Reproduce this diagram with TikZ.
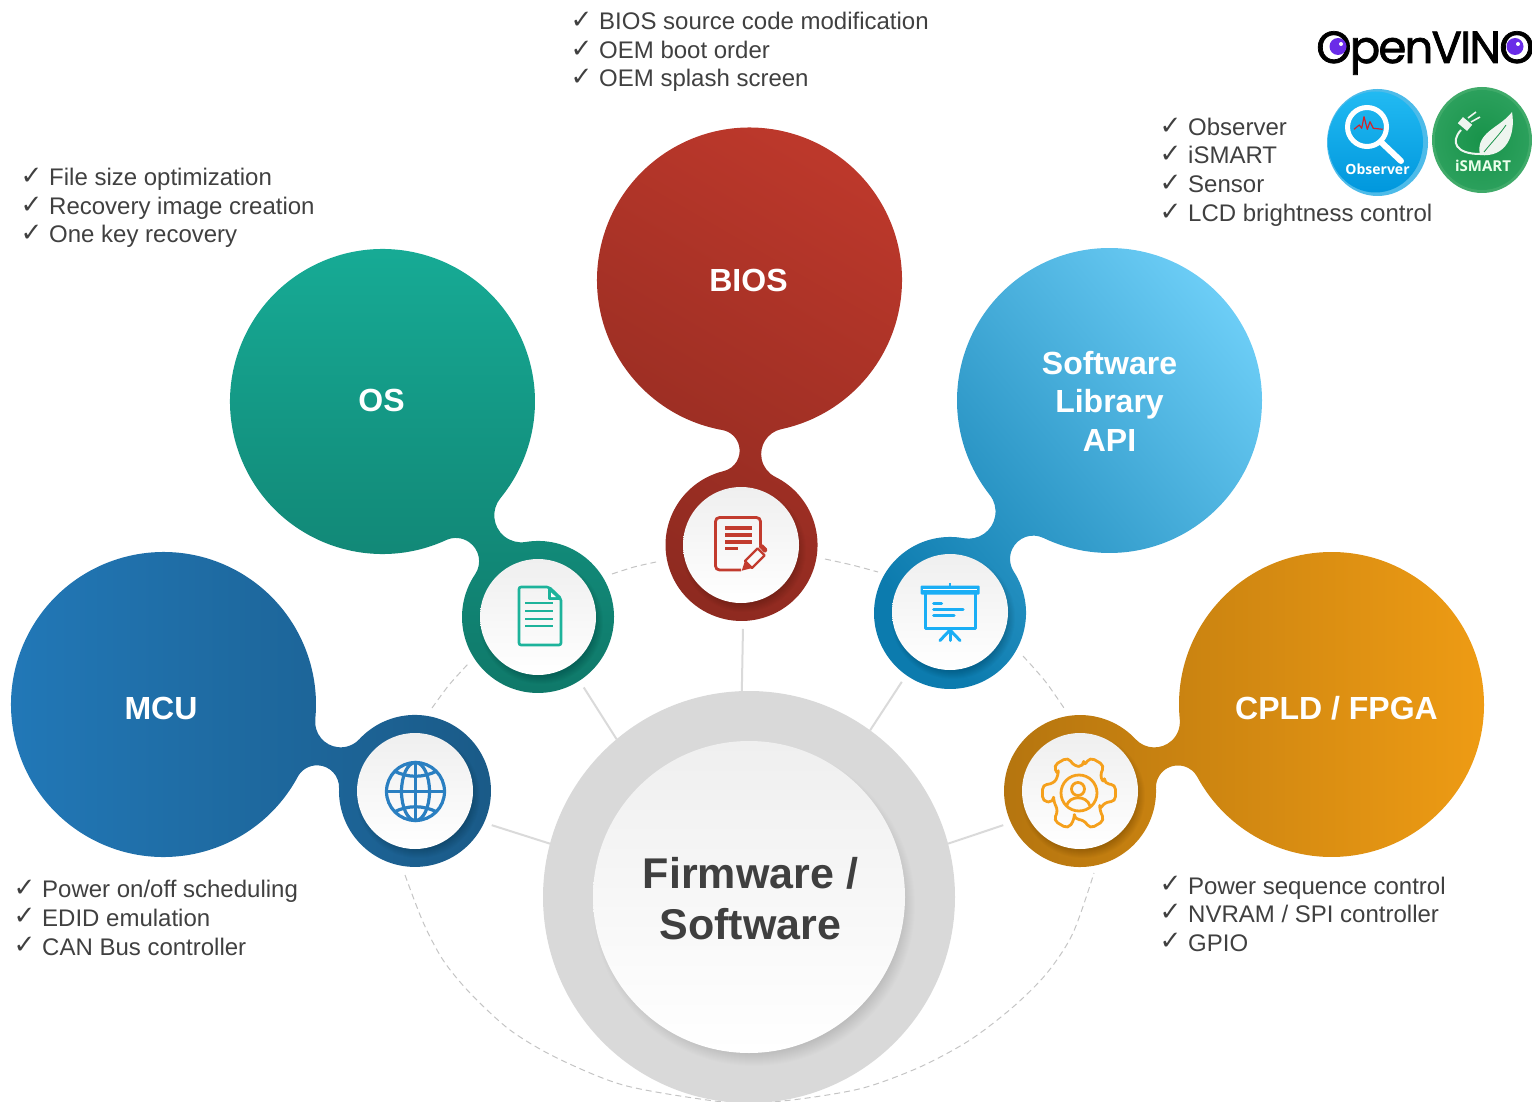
\documentclass[tikz,border=0pt]{standalone}
\usepackage{fontspec}
\setmainfont{Liberation Sans}
\newfontfamily\chkfont{DejaVu Sans}
\newfontfamily\logofont[FakeBold=1.6,LetterSpace=-4]{Poppins}
\newfontfamily\badgefont{Open Sans}
\definecolor{txt}{HTML}{404040}
\definecolor{hubtxt}{HTML}{3F3F3F}
\definecolor{hubring}{HTML}{D9D9D9}
\definecolor{lnk}{HTML}{DADADA}
\definecolor{orb}{HTML}{C4C4C4}
\definecolor{iconred}{HTML}{C23B2E}
\definecolor{icongreen}{HTML}{1DB39B}
\definecolor{iconblue}{HTML}{1AAEF5}
\definecolor{iconglobe}{HTML}{2A7FC1}
\definecolor{iconorange}{HTML}{F5A01C}
\definecolor{biosA}{HTML}{BC382B}\definecolor{biosB}{HTML}{8E2A20}
\definecolor{osA}{HTML}{17AD97}\definecolor{osB}{HTML}{0F7869}
\definecolor{swA}{HTML}{6CCDF6}\definecolor{swB}{HTML}{0C7BAE}
\definecolor{mcuA}{HTML}{2279B9}\definecolor{mcuB}{HTML}{1A5A87}
\definecolor{cpA}{HTML}{EF9C14}\definecolor{cpB}{HTML}{B5750F}
\definecolor{eye}{HTML}{6A2CE8}
\definecolor{obsring}{HTML}{4DBBE9}\definecolor{obsA}{HTML}{22BAF2}\definecolor{obsB}{HTML}{0097DD}
\definecolor{obsred}{HTML}{D2232A}
\definecolor{ismring}{HTML}{3FAA69}\definecolor{ismA}{HTML}{18934A}\definecolor{ismB}{HTML}{2BA05C}
\definecolor{leaf}{HTML}{EEF5EF}
\definecolor{faceA}{HTML}{EFEFEF}\definecolor{faceM}{HTML}{FAFAFA}
\newcommand{\blob}[9]{%
  \pgfmathsetmacro\dX{#4-#1}\pgfmathsetmacro\dY{#5-#2}
  \pgfmathsetmacro\aX{atan2(\dY,\dX)}
  \pgfmathsetmacro\dD{veclen(\dX,\dY)/100}
  \pgfmathsetmacro\pA{(#3+#7)/100}\pgfmathsetmacro\pC{(#6+#7)/100}
  \pgfmathsetmacro\pY{(\dD*\dD+\pA*\pA-\pC*\pC)/(2*\dD)}
  \pgfmathsetmacro\bOne{acos(\pY/\pA)}\pgfmathsetmacro\cOne{acos((\dD-\pY)/\pC)}
  \pgfmathsetmacro\pA{(#3+#8)/100}\pgfmathsetmacro\pC{(#6+#8)/100}
  \pgfmathsetmacro\pY{(\dD*\dD+\pA*\pA-\pC*\pC)/(2*\dD)}
  \pgfmathsetmacro\bTwo{acos(\pY/\pA)}\pgfmathsetmacro\cTwo{acos((\dD-\pY)/\pC)}
  \shade[#9] ($(#1,#2)+(\aX+\bOne:#3)$)
    arc[start angle=\aX+\bOne,end angle=\aX+360-\bTwo,radius=#3]
    arc[start angle=\aX-\bTwo+180,end angle=\aX+\cTwo,radius=#8]
    arc[start angle=\aX-180+\cTwo,end angle=\aX+180-\cOne,radius=#6]
    arc[start angle=\aX-\cOne,end angle=\aX+\bOne-180,radius=#7]
    -- cycle;
}
% x y rmin rmax alpha ox oy
\newcommand{\softshadow}[7]{%
  \foreach \k in {#3,...,#4}{
    \fill[black,opacity=#5] (#1+#6,#2+#7) circle[radius=\k];
  }
}
\newcommand{\chk}[4]{%
  \node[chkmark] (#1c) at (#2-28.5,#3-1.5) {✓};
  \node[listitem] (#1t) at (#2,#3) {#4};
}
\tikzset{
  chkmark/.style={anchor=base west,inner sep=0,font=\chkfont\fontsize{26}{26}\selectfont,text=txt},
  listitem/.style={anchor=base west,inner sep=0,font=\fontsize{24}{24}\selectfont,text=txt},
  bigtitle/.style={font=\bfseries\fontsize{32}{38.5}\selectfont,text=white,align=center,inner sep=0},
  ringnode/.style={circle,minimum size=152pt,inner sep=0,outer sep=8pt},
  facenode/.style={circle,minimum size=116pt,inner sep=0,top color=faceA,middle color=faceM,bottom color=white},
  link/.style={lnk,line width=2pt},
  orbit/.style={orb,line width=1pt,dash pattern=on 6pt off 4pt},
}
\usetikzlibrary{calc}
\begin{document}
\begin{tikzpicture}[x=1pt,y=-1pt]
\useasboundingbox (0,0) rectangle (1532,1102);
\clip (0,0) rectangle (1532,1102);
% anchors for connectors
\node[circle,minimum size=412pt,inner sep=0,outer sep=0] (hub) at (749,897) {};
\node[ringnode] (ringbios) at (741.5,545) {};
\node[ringnode] (ringos) at (538,617) {};
\node[ringnode] (ringsw) at (950,613) {};
\node[ringnode] (ringmcu) at (415,791) {};
\node[ringnode] (ringcp) at (1080,791) {};
% orbit
\draw[orbit] plot[smooth] coordinates {(432,708) (449,685) (468,664)};
\draw[orbit] plot[smooth] coordinates {(612,574) (634,567) (656,562)};
\draw[orbit] plot[smooth] coordinates {(825,559) (852,565) (878,572)};
\draw[orbit] plot[smooth] coordinates {(1023,656) (1045,681) (1064,708)};
\draw[orbit] plot[smooth] coordinates {(405,875) (423,922) (443,960) (470,993) (510,1030) (557,1058) (623,1085) (707,1100) (750,1103) (800,1099) (863,1088) (920,1067) (970,1040) (1013,1007) (1047,973) (1073,933) (1094,873)};
% connectors
\draw[link] (ringbios.271) -- (hub.92);
\draw[link] (ringos.-57) -- (hub.130);
\draw[link] (ringsw.235) -- (hub.54);
\draw[link] (ringmcu.-24) -- (hub.165);
\draw[link] (ringcp.204) -- (hub.15);
% hub
\fill[hubring] (749,897) circle[radius=206];
\softshadow{749}{897}{144}{161}{0.007}{5}{8}
\node[circle,minimum size=312pt,inner sep=0,top color=faceA,middle color=faceM,bottom color=white] (hubface) at (749,897) {};
\node[align=center,inner sep=0,text=hubtxt,font=\bfseries\fontsize{43}{51}\selectfont] (hublabel) at (750.5,899) {Firmware /\\Software};
% blobs
\blob{749.5}{280}{152.5}{741.5}{545}{76}{21}{25.5}{top color=biosA,bottom color=biosB,shading angle=-30}
\blob{382.5}{401.5}{152.5}{538}{617}{76}{23.3}{27}{top color=osA,bottom color=osB,shading angle=0}
\blob{1109.5}{400.5}{152.5}{950}{613}{76}{27}{23.3}{top color=swA,bottom color=swB,shading angle=-50}
\blob{163.5}{704.5}{152.5}{415}{791}{76}{22}{25.5}{left color=mcuA,right color=mcuB}
\blob{1331.5}{704.5}{152.5}{1080}{791}{76}{25.5}{22}{left color=cpB,right color=cpA}
% faces
\softshadow{741}{545}{50}{62}{0.02}{3}{5}
\softshadow{538}{617}{50}{62}{0.02}{3}{5}
\softshadow{950}{612}{50}{62}{0.02}{3}{5}
\softshadow{415}{791}{50}{62}{0.02}{3}{5}
\softshadow{1080}{791}{50}{62}{0.02}{3}{5}
\node[facenode] (facebios) at (741,545) {};
\node[facenode] (faceos) at (538,617) {};
\node[facenode] (facesw) at (950,612) {};
\node[facenode] (facemcu) at (415,791) {};
\node[facenode] (facecp) at (1080,791) {};
% titles
\node[bigtitle] (tbios) at (748.5,280) {BIOS};
\node[bigtitle] (tos) at (381.5,400) {OS};
\node[bigtitle] (tsw) at (1109.5,401) {Software\\Library\\API};
\node[bigtitle] (tmcu) at (161,708) {MCU};
\node[bigtitle] (tcp) at (1336.5,708) {CPLD / FPGA};
% BIOS icon
\begin{scope}[iconred]
\draw[line width=2.8pt,rounded corners=4pt] (741,570) -- (715.5,570) -- (715.5,517.5) -- (760.5,517.5) -- (760.5,545);
\foreach \yy in {528,535,542} \fill (724.5,\yy-1.7) rectangle (752,\yy+1.7);
\fill (724.5,546.5) rectangle (738,550);
\draw[line width=2.2pt,line join=round] (745,561) -- (757.6,548.4) -- (764.6,555.4) -- (752,568) -- cycle;
\fill (741.7,570.7) -- (744.9,561.1) -- (751.9,568.1) -- cycle;
\fill[rounded corners=1.5pt] (758,546) -- (761.8,543.5) -- (768,549.5) -- (765,553.5) -- cycle;
\end{scope}
% OS icon
\begin{scope}[icongreen]
\draw[line width=2.6pt,line join=round,rounded corners=2pt] (549,587) -- (519,587) -- (519,645) -- (561,645) -- (561,598.5) -- cycle;
\draw[line width=2.2pt,line join=round] (549,587) -- (549,598.5) -- (561,598.5);
\fill (549,587) -- (561,598.5) -- (549,598.5) -- cycle;
\fill[white] (551,592.5) -- (556,597) -- (551,597) -- cycle;
\foreach \yy in {603,611,619,626} \draw[line width=2.1pt] (525,\yy) -- (553,\yy);
\end{scope}
% Software icon
\begin{scope}[iconblue]
\fill[rounded corners=1pt] (920.5,585.5) rectangle (979.5,594.5);
\draw[white,line width=1pt] (923,589) -- (977,589);
\draw[line width=3pt,line join=round] (925,594) -- (925,628.5) -- (975.5,628.5) -- (975.5,594);
\fill (948.8,583) rectangle (951.2,587);
\draw[line width=3pt,line cap=round] (933.5,603) -- (941.5,603);
\draw[line width=3pt,line cap=round] (933.5,609) -- (963,609);
\draw[line width=3pt,line cap=round] (933.5,615) -- (954,615);
\draw[line width=3pt,line cap=round] (950,630) -- (940,640.5);
\draw[line width=3pt,line cap=round] (950,630) -- (950,640.5);
\draw[line width=3pt,line cap=round] (950,630) -- (960,640.5);
\end{scope}
% Globe icon
\begin{scope}[iconglobe,line width=3.2pt]
\draw (415.5,791.5) circle[radius=29];
\draw (415.5,791.5) ellipse[x radius=14,y radius=29];
\draw (415.5,762.5) -- (415.5,820.5);
\draw (386.5,791.5) -- (444.5,791.5);
\draw (394,771) .. controls (408,778) and (423,778) .. (437,771);
\draw (394,812) .. controls (408,805) and (423,805) .. (437,812);
\end{scope}
% Gear icon
\begin{scope}[iconorange,line width=2.8pt,shift={(1079,793)}]
\draw[rounded corners=5pt,line join=round] (-20:27)
  \foreach \aa in {0,60,120,180,240,300} { -- (\aa-20:27) -- (\aa-13:37.5) -- (\aa+13:37.5) -- (\aa+20:27) -- (\aa+40:27)} -- cycle;
\draw (0,0) circle[radius=18];
\draw (-1,-4) circle[radius=6.5];
\draw (-12.5,13) .. controls (-10,2) and (8,2) .. (11,13);
\end{scope}
% lists
\chk{ba}{599}{30}{BIOS source code modification}
\chk{bb}{599}{59}{OEM boot order}
\chk{bc}{599}{87}{OEM splash screen}
\chk{oa}{49}{186}{File size optimization}
\chk{ob}{49}{215}{Recovery image creation}
\chk{oc}{49}{243}{One key recovery}
\chk{sa}{1188}{136}{Observer}
\chk{sb}{1188}{164}{iSMART}
\chk{sc}{1188}{193}{Sensor}
\chk{sd}{1188}{222}{LCD brightness control}
\chk{ma}{42}{897.5}{Power on/off scheduling}
\chk{mb}{42}{926}{EDID emulation}
\chk{mc}{42}{955}{CAN Bus controller}
\chk{ca}{1188}{894}{Power sequence control}
\chk{cb}{1188}{922}{NVRAM / SPI controller}
\chk{cc}{1188}{951}{GPIO}
% OpenVINO logo
\node[anchor=base west,inner sep=0,font=\logofont\fontsize{45}{45}\selectfont,text=black] (vino) at (1316,63) {OpenVINO};
\fill[eye] (1338,46.5) circle[radius=8.5];
\fill[white] (1341,44) circle[radius=2];
\fill[eye] (1515,46.5) circle[radius=8.5];
\fill[white] (1518,44) circle[radius=2];
% Observer badge
\fill[obsring] (1377.5,142.5) ellipse[x radius=50.5,y radius=53.5];
\shade[top color=obsA,bottom color=obsB] (1375.5,142) ellipse[x radius=47.5,y radius=50.5];
\draw[white,line width=5pt] (1367,127) circle[radius=19.5];
\draw[white,line width=6pt,line cap=round] (1382,143) -- (1401,161);
\draw[obsred,line width=1.2pt,line join=round] (1354,129.3) -- (1359.3,125) -- (1361.7,128.3) -- (1364,116.7) -- (1367.3,129.3) -- (1370,121.7) -- (1373.3,128.3) -- (1382.7,129.3);
\node[inner sep=0,text=white,font=\badgefont\bfseries\fontsize{14}{14}\selectfont] (obslabel) at (1377.5,169.5) {Observer};
% iSMART badge
\fill[ismring] (1482,140) ellipse[x radius=50,y radius=53];
\shade[inner color=ismA,outer color=ismB] (1482,140) ellipse[x radius=47,y radius=50];
\fill[leaf] (1480,155) .. controls (1475,132) and (1500,128) .. (1512,112) .. controls (1516,135) and (1506,158) .. (1480,155) -- cycle;
\draw[ismA,line width=.8pt] (1484,152) .. controls (1492,142) and (1500,134) .. (1506,125);
\draw[leaf,line width=2pt] (1461,130) .. controls (1450,142) and (1456,154) .. (1480,154);
\fill[leaf,rotate around={-40:(1465,124)}] (1459,120) rectangle (1471,128);
\draw[leaf,line width=1.6pt] (1468,118) -- (1476,112);
\draw[leaf,line width=1.6pt] (1471,122) -- (1480,117);
\node[inner sep=0,text=white!92!green,font=\badgefont\bfseries\fontsize{15}{15}\selectfont] (ismlabel) at (1483,165.5) {iSMART};
\end{tikzpicture}
\end{document}
